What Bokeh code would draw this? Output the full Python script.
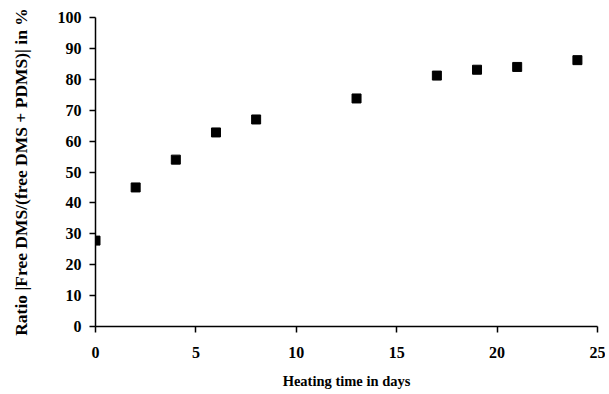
from bokeh.plotting import figure
from bokeh.embed import file_html
from bokeh.resources import INLINE
from bokeh.models import FixedTicker, Range1d

days = [0, 2, 4, 6, 8, 13, 17, 19, 21, 24]
ratio = [27.8, 45.0, 54.0, 62.8, 67.0, 73.8, 81.2, 83.1, 84.0, 86.2]
x_ticks = [0, 5, 10, 15, 20, 25]
y_ticks = [0, 10, 20, 30, 40, 50, 60, 70, 80, 90, 100]

FONT = "Liberation Serif"

p = figure(width=605, height=392, output_backend="svg", toolbar_location=None,
           x_range=Range1d(0, 25), y_range=Range1d(0, 100),
           min_border_left=95, min_border_right=8, min_border_top=17, min_border_bottom=66)
p.outline_line_color = None
p.xgrid.grid_line_color = None
p.ygrid.grid_line_color = None

p.scatter(days, ratio, marker="square", size=9, color="black")

for ax in (p.xaxis[0], p.yaxis[0]):
    ax.axis_line_color = "black"
    ax.axis_line_width = 1.5
    ax.major_tick_line_width = 1.5
    ax.major_tick_in = 0
    ax.major_tick_out = 6
    ax.minor_tick_line_color = None
    ax.major_label_text_font = FONT
    ax.major_label_text_font_style = "bold"
    ax.major_label_text_font_size = "16px"
    ax.major_label_text_color = "black"
    ax.axis_label_text_font = FONT
    ax.axis_label_text_font_style = "bold"
    ax.axis_label_text_color = "black"

p.xaxis.ticker = FixedTicker(ticks=x_ticks)
p.yaxis.ticker = FixedTicker(ticks=y_ticks)
p.xaxis.major_label_standoff = 14
p.yaxis.major_label_standoff = 8
p.xaxis.axis_label = "Heating time in days"
p.yaxis.axis_label = "Ratio |Free DMS/(free DMS + PDMS)| in %"
p.xaxis.axis_label_text_font_size = "14.5px"
p.yaxis.axis_label_text_font_size = "17.5px"
p.xaxis.axis_label_standoff = 12
p.yaxis.axis_label_standoff = 24

open("out.html", "w").write(file_html(p, INLINE))
